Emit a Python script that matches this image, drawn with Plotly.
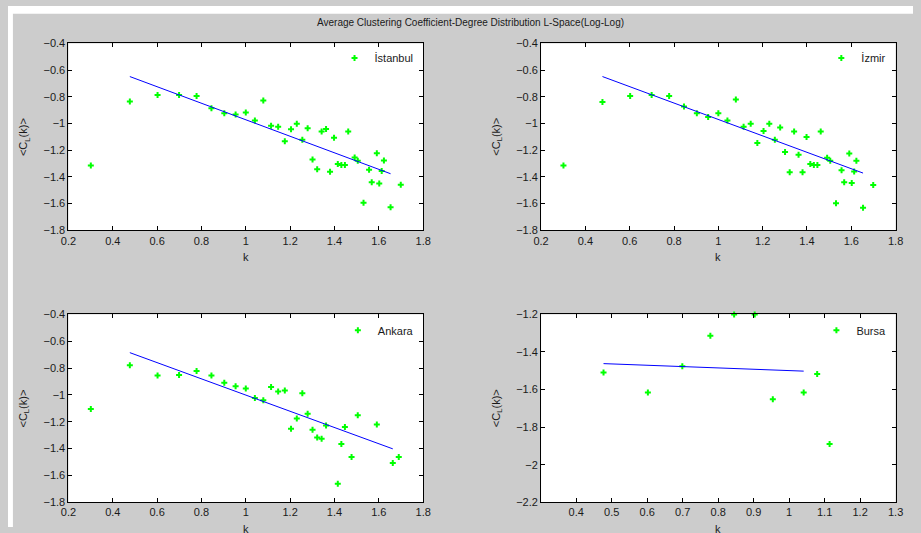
import plotly.graph_objects as go

W, H = 921, 533

# ---------------- data ----------------
title_text = "Average Clustering Coefficient-Degree Distribution L-Space(Log-Log)"

x_ist = [0.301, 0.477, 0.602, 0.699, 0.778, 0.845, 0.903, 0.954, 1.0, 1.041, 1.079, 1.114,
         1.146, 1.176, 1.204, 1.23, 1.255, 1.279, 1.301, 1.322, 1.342, 1.362, 1.38, 1.398,
         1.415, 1.431, 1.447, 1.462, 1.491, 1.505, 1.531, 1.556, 1.568, 1.591, 1.602, 1.613,
         1.623, 1.653, 1.699]
y_ist = [-1.315, -0.834, -0.786, -0.786, -0.793, -0.885, -0.922, -0.932, -0.917, -0.978, -0.827, -1.017,
         -1.024, -1.133, -1.043, -1.002, -1.121, -1.036, -1.269, -1.342, -1.060, -1.041, -1.361, -1.106,
         -1.303, -1.310, -1.310, -1.060, -1.254, -1.279, -1.594, -1.347, -1.439, -1.223, -1.449, -1.356,
         -1.276, -1.628, -1.458]
fit_x_ist = [0.477, 1.653]
fit_y_ist = [-0.648, -1.376]

x_izm = [0.301, 0.477, 0.602, 0.699, 0.778, 0.845, 0.903, 0.954, 1.0, 1.041, 1.079, 1.114,
         1.146, 1.176, 1.204, 1.23, 1.255, 1.279, 1.301, 1.322, 1.342, 1.362, 1.38, 1.398,
         1.415, 1.431, 1.447, 1.462, 1.491, 1.505, 1.531, 1.556, 1.568, 1.591, 1.602, 1.613,
         1.623, 1.653, 1.699]
y_izm = [-1.315, -0.839, -0.793, -0.786, -0.793, -0.873, -0.922, -0.951, -0.922, -0.978, -0.820, -1.024,
         -1.002, -1.145, -1.055, -1.002, -1.121, -1.029, -1.213, -1.364, -1.060, -1.233, -1.364, -1.101,
         -1.303, -1.310, -1.310, -1.060, -1.257, -1.279, -1.597, -1.349, -1.439, -1.225, -1.446, -1.359,
         -1.279, -1.631, -1.461]
fit_x_izm = [0.477, 1.653]
fit_y_izm = [-0.648, -1.371]

x_ank = [0.301, 0.477, 0.602, 0.699, 0.778, 0.845, 0.903, 0.954, 1.0, 1.041, 1.079, 1.114,
         1.146, 1.176, 1.204, 1.23, 1.255, 1.279, 1.301, 1.322, 1.342, 1.362, 1.415, 1.431,
         1.447, 1.477, 1.505, 1.591, 1.663, 1.690]
y_ank = [-1.105, -0.779, -0.856, -0.851, -0.822, -0.856, -0.909, -0.936, -0.953, -1.023, -1.040, -0.941,
         -0.974, -0.967, -1.252, -1.175, -0.987, -1.141, -1.259, -1.317, -1.327, -1.228, -1.662, -1.365,
         -1.240, -1.462, -1.151, -1.221, -1.508, -1.462]
fit_x_ank = [0.477, 1.663]
fit_y_ank = [-0.685, -1.402]

x_bur = [0.301, 0.477, 0.602, 0.699, 0.778, 0.845, 0.903, 0.954, 1.041, 1.079, 1.114]
y_bur = [-2.098, -1.509, -1.616, -1.476, -1.314, -1.200, -1.200, -1.652, -1.616, -1.517, -1.890]
fit_x_bur = [0.477, 1.041]
fit_y_bur = [-1.462, -1.502]

names = ["İstanbul", "İzmir", "Ankara", "Bursa"]

# ---------------- layout geometry (pixels) ----------------
def px_x(v):
    return v / W

def px_y(v):
    return 1 - v / H

col_x = [(61.5, 422.5), (542.5, 903.3)]
row_y = [(38.3, 229.5), (315.5, 507.7)]

FONT = "Liberation Sans, Arial, sans-serif"
TXT = "#1a1a1a"

fig = go.Figure()

panels = [
    (x_ist, y_ist, fit_x_ist, fit_y_ist, 0, 0, [0.2, 1.8], [-1.8, -0.4], dict(tickvals=[0.2, 0.4, 0.6, 0.8, 1, 1.2, 1.4, 1.6, 1.8]), dict(tickvals=[-1.8, -1.6, -1.4, -1.2, -1, -0.8, -0.6, -0.4])),
    (x_izm, y_izm, fit_x_izm, fit_y_izm, 0, 1, [0.2, 1.8], [-1.8, -0.4], dict(tickvals=[0.2, 0.4, 0.6, 0.8, 1, 1.2, 1.4, 1.6, 1.8]), dict(tickvals=[-1.8, -1.6, -1.4, -1.2, -1, -0.8, -0.6, -0.4])),
    (x_ank, y_ank, fit_x_ank, fit_y_ank, 1, 0, [0.2, 1.8], [-1.8, -0.4], dict(tickvals=[0.2, 0.4, 0.6, 0.8, 1, 1.2, 1.4, 1.6, 1.8]), dict(tickvals=[-1.8, -1.6, -1.4, -1.2, -1, -0.8, -0.6, -0.4])),
    (x_bur, y_bur, fit_x_bur, fit_y_bur, 1, 1, [0.30103, 1.3], [-2.2, -1.2], dict(tickvals=[0.4, 0.5, 0.6, 0.7, 0.8, 0.9, 1, 1.1, 1.2, 1.3]), dict(tickvals=[-2.2, -2, -1.8, -1.6, -1.4, -1.2])),
]

legend_marker_px = [(353.3, 53.3), (848.7, 53.3), (356.7, 331.7), (843.7, 331.7)]

annotations = []
layout_axes = {}
for i, (xs, ys, fx, fy, r, c, xr, yr, xt, yt) in enumerate(panels):
    n = i + 1
    xa = "x" if n == 1 else f"x{n}"
    ya = "y" if n == 1 else f"y{n}"
    lg = "legend" if n == 1 else f"legend{n}"
    fig.add_trace(go.Scatter(
        x=xs, y=ys, mode="markers", name=names[i], xaxis=xa, yaxis=ya, legend=lg,
        marker=dict(symbol="cross", size=5, color="#00ff00", line=dict(width=0)),
        cliponaxis=False, showlegend=True, hoverinfo="skip"))
    fig.add_trace(go.Scatter(
        x=fx, y=fy, mode="lines", xaxis=xa, yaxis=ya, showlegend=False,
        line=dict(color="#0000ff", width=1), hoverinfo="skip"))
    x0, x1 = col_x[c]
    y0, y1 = row_y[r]
    axcommon = dict(showline=True, linecolor="#000000", linewidth=1, mirror="ticks",
                    ticks="inside", ticklen=4, tickcolor="#000000", showgrid=False,
                    zeroline=False, tickfont=dict(family=FONT, size=11, color=TXT))
    layout_axes["xaxis" if n == 1 else f"xaxis{n}"] = dict(
        domain=[px_x(x0), px_x(x1)], range=xr, anchor=ya, tickmode="array", **xt, **axcommon)
    layout_axes["yaxis" if n == 1 else f"yaxis{n}"] = dict(
        domain=[px_y(y1), px_y(y0)], range=yr, anchor=xa, tickmode="array", **yt, **axcommon)
    mx, my = legend_marker_px[i]
    layout_axes[lg] = dict(x=px_x(mx - 21), y=px_y(my), xanchor="left", yanchor="middle",
                           bgcolor="rgba(0,0,0,0)", borderwidth=0,
                           font=dict(family=FONT, size=11, color=TXT),
                           tracegroupgap=0, itemsizing="trace")
    # axis labels
    annotations.append(dict(text="&lt;C<sub>L</sub>(k)&gt;", xref="paper", yref="paper",
                            x=px_x(x0 - 45), y=px_y((y0 + y1) / 2), textangle=-90,
                            showarrow=False, xanchor="center", yanchor="middle",
                            font=dict(family=FONT, size=11, color=TXT)))
    annotations.append(dict(text="k", xref="paper", yref="paper",
                            x=px_x((x0 + x1) / 2), y=px_y(y1 + 27.5),
                            showarrow=False, xanchor="center", yanchor="middle",
                            font=dict(family=FONT, size=11, color=TXT)))

annotations.append(dict(text=title_text, xref="paper", yref="paper", x=px_x(471), y=px_y(17),
                        showarrow=False, xanchor="center", yanchor="middle",
                        font=dict(family=FONT, size=10, color=TXT)))

fig.update_layout(
    width=W, height=H, margin=dict(l=0, r=0, t=0, b=0),
    paper_bgcolor="#cccccc", plot_bgcolor="#ffffff",
    annotations=annotations, hovermode=False,
    shapes=[dict(type="rect", xref="paper", yref="paper", x0=0, x1=1, y0=px_y(8), y1=1,
                 fillcolor="#ffffff", line=dict(width=0), layer="below"),
            dict(type="rect", xref="paper", yref="paper", x0=0, x1=px_x(5), y0=0, y1=1,
                 fillcolor="#ffffff", line=dict(width=0), layer="below")],
    **layout_axes)

fig.write_html("out.html", config={"displayModeBar": False},
               post_script="document.body.style.margin='0px';document.body.style.overflow='hidden';")
